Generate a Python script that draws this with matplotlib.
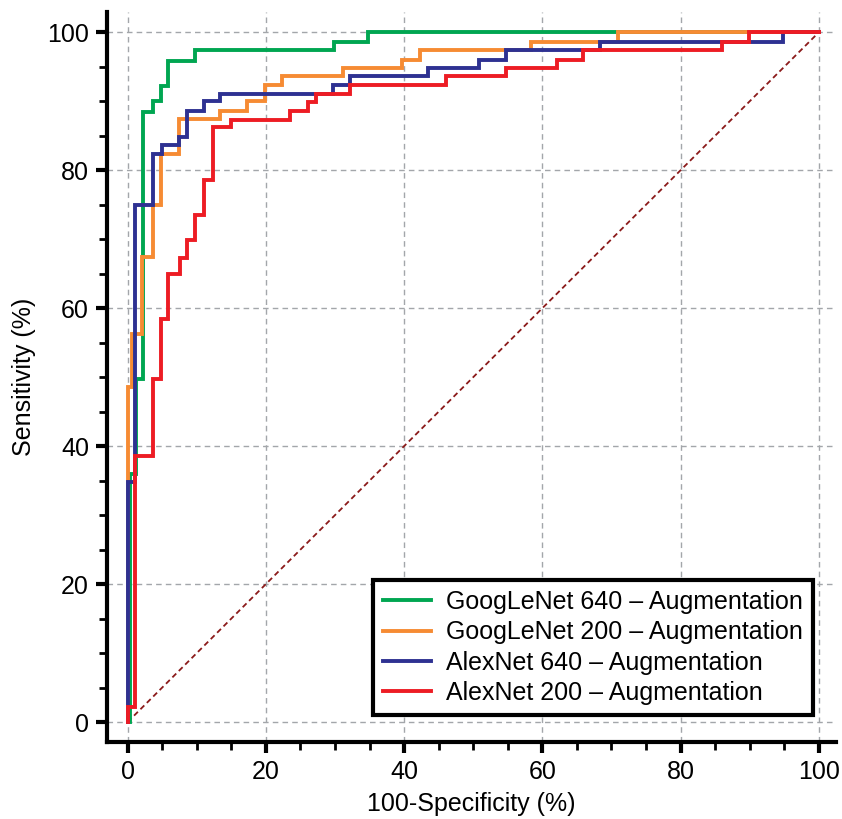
import numpy as np
import matplotlib.pyplot as plt

plt.rcParams['font.family'] = ['Liberation Sans', 'DejaVu Sans']

# ROC vertices (100-specificity, sensitivity)
g640_x = [0, 0.3, 0.3, 1.2, 1.2, 2.2, 2.2, 3.7, 3.7, 4.8, 4.8, 5.9, 5.9, 9.8, 9.8, 29.9, 29.9, 34.7, 34.7, 100]
g640_y = [0, 0, 35.9, 35.9, 49.7, 49.7, 88.4, 88.4, 90.0, 90.0, 92.2, 92.2, 95.9, 95.9, 97.4, 97.4, 98.6, 98.6, 100, 100]

g200_x = [0, 0, 0.6, 0.6, 2.1, 2.1, 3.7, 3.7, 4.8, 4.8, 7.4, 7.4, 13.3, 13.3, 17.2, 17.2, 19.8, 19.8,
          22.4, 22.4, 31.1, 31.1, 39.7, 39.7, 42.3, 42.3, 58.4, 58.4, 71.0, 71.0, 100]
g200_y = [0, 48.6, 48.6, 56.2, 56.2, 67.4, 67.4, 74.9, 74.9, 82.4, 82.4, 87.4, 87.4, 88.6, 88.6, 90.0, 90.0, 92.3,
          92.3, 93.7, 93.7, 94.8, 94.8, 96.0, 96.0, 97.4, 97.4, 98.6, 98.6, 100, 100]

a640_x = [0, 0, 1.0, 1.0, 3.7, 3.7, 4.9, 4.9, 7.4, 7.4, 8.6, 8.6, 11.1, 11.1, 13.4, 13.4, 29.7, 29.7,
          32.1, 32.1, 43.5, 43.5, 50.9, 50.9, 54.7, 54.7, 68.4, 68.4, 94.8, 94.8, 100]
a640_y = [0, 34.8, 34.8, 74.9, 74.9, 82.4, 82.4, 83.6, 83.6, 84.8, 84.8, 88.6, 88.6, 90.0, 90.0, 91.1, 91.1, 92.3,
          92.3, 93.7, 93.7, 94.8, 94.8, 96.0, 96.0, 97.4, 97.4, 98.6, 98.6, 100, 100]

a200_x = [0, 0, 1.0, 1.0, 3.7, 3.7, 4.8, 4.8, 5.9, 5.9, 7.5, 7.5, 8.6, 8.6, 9.8, 9.8, 11.1, 11.1, 12.3, 12.3,
          14.9, 14.9, 23.5, 23.5, 26.1, 26.1, 27.2, 27.2, 32.1, 32.1, 46.1, 46.1, 54.7, 54.7, 62.1, 62.1,
          65.9, 65.9, 86.0, 86.0, 89.9, 89.9, 100]
a200_y = [0, 2.2, 2.2, 38.6, 38.6, 49.8, 49.8, 58.4, 58.4, 64.9, 64.9, 67.3, 67.3, 69.9, 69.9, 73.5, 73.5, 78.6, 78.6, 86.2,
          86.2, 87.3, 87.3, 88.6, 88.6, 89.9, 89.9, 91.1, 91.1, 92.3, 92.3, 93.7, 93.7, 94.8, 94.8, 96.0,
          96.0, 97.4, 97.4, 98.6, 98.6, 100, 100]

labels = ["GoogLeNet 640 \u2013 Augmentation", "GoogLeNet 200 \u2013 Augmentation",
          "AlexNet 640 \u2013 Augmentation", "AlexNet 200 \u2013 Augmentation"]
colors = ["#00a651", "#f68b33", "#2e3192", "#ed1c24"]

fig = plt.figure(figsize=(8.42, 8.19), dpi=100)
ax = fig.add_axes([0.127, 0.094, 0.866, 0.891])

ax.grid(True, color="#a3a6aa", linestyle=(0, (4, 3)), linewidth=1.0)
ax.set_axisbelow(True)
ax.plot([0, 100], [0, 100], color="#8b1a1a", linestyle=(0, (3, 2)), linewidth=1.3)

for xs, ys, lab, c in zip([g640_x, g200_x, a640_x, a200_x], [g640_y, g200_y, a640_y, a200_y], labels, colors):
    ax.plot(xs, ys, color=c, linewidth=2.8, label=lab, solid_joinstyle="miter")

ax.set_xlim(-3, 102.5)
ax.set_ylim(-2.9, 102.9)
ax.set_xticks(np.arange(0, 101, 20))
ax.set_yticks(np.arange(0, 101, 20))
ax.set_xticks(np.arange(0, 101, 5), minor=True)
ax.set_yticks(np.arange(0, 101, 5), minor=True)
ax.tick_params(which="major", length=8, width=3, labelsize=18, direction="out", pad=5)
ax.tick_params(which="minor", length=6, width=2, direction="out")

for s in ["top", "right"]:
    ax.spines[s].set_visible(False)
for s in ["left", "bottom"]:
    ax.spines[s].set_linewidth(3)

ax.set_xlabel("100-Specificity (%)", fontsize=18, labelpad=6)
ax.set_ylabel("Sensitivity (%)", fontsize=18, labelpad=8)

leg = ax.legend(loc="lower right", bbox_to_anchor=(0.985, 0.02), fontsize=18, fancybox=False,
                framealpha=1, edgecolor="black", handlelength=1.9, labelspacing=0.25,
                borderaxespad=0.5, handletextpad=0.6)
leg.get_frame().set_linewidth(3)

fig.savefig("out.png", dpi=100)
